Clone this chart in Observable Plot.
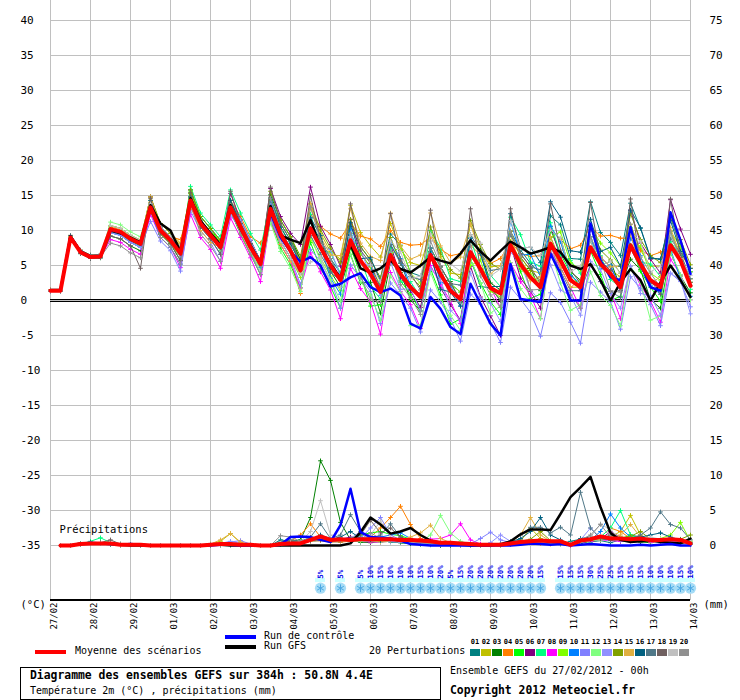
<!DOCTYPE html>
<html><head><meta charset="utf-8">
<script src="https://cdn.jsdelivr.net/npm/d3@7"></script>
<script src="https://cdn.jsdelivr.net/npm/@observablehq/plot@0.6"></script>
<style>
body{margin:0;background:#fff;}
#wrap{position:relative;width:740px;height:700px;font-family:"DejaVu Sans Mono",monospace;color:#000;overflow:hidden;background:#fff}
.abs{position:absolute;white-space:nowrap;line-height:1}
</style></head><body><div id="wrap"></div>
<script>
// ---------- DATA (6-hourly steps from 27/02/2012 00h, step 0..64) ----------
const dateLabels = ["27/02","28/02","29/02","01/03","02/03","03/03","04/03","05/03","06/03","07/03","08/03","09/03","10/03","11/03","12/03","13/03","14/03"];
const tempTicks = [-35,-30,-25,-20,-15,-10,-5,0,5,10,15,20,25,30,35,40];
const pertLabels = ["01","02","03","04","05","06","07","08","09","10","11","12","13","14","15","16","17","18","19","20"];
const pertColors = ["#008080","#c0c000","#008000","#ff8000","#00ff00","#800080","#00ff80","#ff00ff","#80ff00","#0080ff","#8080ff","#80ff80","#9090ff","#80a000","#e0b040","#006080","#507888","#706060","#c0c0c0","#909090"];

// Temperature 2m (°C), steps 0..64
const meanT = [1.4,1.4, 9.0,6.9,6.2,6.3, 10.2,9.8,8.8,8.1, 13.3,10.0,8.6,6.7, 14.3,11.0,9.3,7.6, 13.3,10.5,7.6,5.2, 13.1,9.5,7.1,4.3, 10.3,7.6,5.0,2.9, 8.6,5.7,3.8,1.2, 6.5,3.8,1.9,0.5, 6.5,3.8,1.4,0.2, 6.9,4.5,1.8,1.0, 7.9,5.2,3.3,1.9, 8.1,5.7,2.9,1.9, 7.6,5.2,3.8,1.9, 7.9,5.2,2.9,1.9, 7.9,5.7,2.1];
const gfsT = [1.5,1.5, 9.2,7.0,6.3,6.2, 10.0,9.6,9.0,8.3, 13.6,11.0,10.0,7.0, 14.6,11.4,9.6,8.0, 13.6,10.2,7.8,5.3, 13.5,9.3,8.7,8.2, 11.5,7.5,5.2,3.2, 8.0,4.6,4.0,4.6, 5.7,4.5,4.0,5.0, 6.2,5.7,5.3,6.7, 8.6,7.0,5.7,7.1, 8.4,7.6,6.7,7.1, 7.6,6.9,5.0,4.5, 5.2,2.9,0.0,2.6, 4.5,2.9,0.0,2.6, 5.0,2.9,0.5];
const ctrlT = [1.4,1.4, 9.1,7.0,6.2,6.3, 10.1,9.7,8.7,8.0, 13.2,10.1,8.7,6.6, 14.2,11.1,9.4,7.5, 13.2,10.4,7.7,5.1, 12.5,9.0,7.0,5.5, 6.2,5.0,2.0,2.4, 3.3,3.9,1.9,1.2, 1.7,0.7,-3.3,-4.0, 0.5,-1.2,-3.8,-4.8, 2.4,-0.5,-3.3,-5.0, 5.2,0.2,0.0,-0.2, 6.7,3.8,0.0,0.0, 11.0,5.7,3.3,2.9, 10.5,5.2,1.9,1.4, 12.6,8.6,3.8];
const p01t = [1.4,1.4, 9.2,7.1,6.4,6.5, 9.7,9.3,8.3,7.6, 13.8,10.5,9.1,7.2, 15.3,12.0,10.3,8.6, 13.8,11.0,8.1,5.7, 14.6,11.0,8.6,5.8, 11.3,8.6,6.0,3.9, 10.6,7.7,5.8,3.2, 9.5,7.9,4.0,3.5, 7.5,4.8,2.4,1.2, 5.9,2.0,1.8,0.0, 9.9,7.2,5.3,3.9, 12.1,10.8,6.0,5.9, 14.1,9.7,8.3,6.4, 13.9,10.3,6.0,5.9, 11.9,7.7,4.1];
const p02t = [1.5,1.4, 9.3,7.2,6.5,6.6, 10.7,10.3,9.3,8.6, 14.8,11.0,9.6,8.2, 15.3,11.5,9.8,8.6, 12.8,9.5,6.6,4.7, 14.6,10.5,8.1,5.8, 13.3,9.6,7.0,5.9, 13.6,9.7,7.8,6.2, 11.0,7.3,5.4,5.0, 10.0,6.3,3.9,3.7, 10.9,7.5,4.8,5.0, 9.9,6.2,4.3,3.9, 8.1,4.7,1.9,1.9, 9.1,5.7,4.3,3.4, 10.9,7.2,4.9,4.9, 9.9,6.7,3.1];
const p03t = [1.3,1.4, 9.0,6.9,6.2,6.3, 9.2,8.8,7.8,7.1, 12.8,9.5,8.1,5.7, 14.3,11.0,9.3,7.1, 14.3,11.5,8.6,5.7, 15.1,11.5,9.1,5.8, 10.3,8.8,4.2,1.9, 6.6,2.5,2.6,-1.8, 5.5,4.0,0.1,-1.5, 7.0,3.1,2.7,-0.3, 8.4,7.2,2.5,1.5, 8.4,4.5,4.6,1.4, 10.1,8.9,4.1,2.9, 8.6,5.0,5.6,1.9, 5.9,4.4,0.1,-1.1, 6.9,3.5,1.1];
const p04t = [1.4,1.4, 9.0,6.9,6.2,6.3, 10.5,10.1,9.1,8.4, 13.3,10.5,9.1,8.7, 13.3,10.5,8.8,8.6, 14.3,12.0,9.1,8.2, 11.1,8.0,5.6,1.0, 12.3,10.6,9.5,8.9, 11.1,9.2,8.8,7.7, 10.0,8.3,7.9,8.0, 9.0,7.3,6.4,6.7, 7.9,6.5,5.3,6.0, 8.4,6.7,6.3,6.4, 10.1,8.7,7.4,7.9, 10.6,9.2,9.3,8.9, 8.9,7.2,6.4,6.9, 7.9,6.7,4.6];
const p05t = [1.3,1.4, 8.8,6.7,6.0,6.1, 9.9,9.5,8.5,7.8, 13.8,10.0,8.6,6.2, 15.8,12.0,10.3,8.1, 12.8,9.5,6.6,3.7, 11.6,7.5,5.1,1.8, 8.3,4.6,2.0,-1.1, 7.6,3.7,-0.8,-0.6, 6.5,2.8,0.9,-1.5, 4.5,0.8,-3.4,-2.6, 5.9,2.5,-0.2,-2.0, 7.9,4.2,0.3,0.9, 10.1,6.7,3.9,1.9, 7.1,3.7,0.0,0.6, 7.9,4.2,1.9,-0.1, 9.4,6.2,2.6];
const p06t = [1.5,1.4, 9.2,7.1,6.4,6.5, 10.2,9.8,8.8,8.1, 14.8,10.5,9.1,6.7, 15.8,11.5,9.8,7.6, 15.3,11.5,8.6,5.7, 16.0,12.0,9.6,8.0, 16.2,10.6,8.0,4.9, 11.6,6.7,4.8,1.2, 8.0,3.3,1.4,-1.0, 6.5,1.8,-0.6,-2.8, 4.9,0.5,-2.2,-5.0, 7.9,3.2,1.3,-1.1, 10.6,6.2,3.4,1.4, 10.6,6.2,4.8,1.9, 12.9,8.2,5.9,3.9, 14.4,10.2,6.6];
const p07t = [1.4,1.5, 9.0,6.9,6.2,6.3, 10.7,10.3,9.3,8.6, 13.8,10.0,8.6,6.7, 16.3,12.5,10.8,9.1, 15.8,12.5,9.6,7.2, 14.6,10.5,8.1,5.3, 12.3,7.4,6.8,3.9, 8.6,5.9,2.0,0.2, 7.5,2.6,2.7,0.5, 10.0,7.5,3.1,2.7, 8.9,4.3,3.6,2.0, 11.9,9.4,5.5,4.9, 11.1,6.5,5.7,3.9, 8.6,6.4,3.0,1.9, 10.4,5.5,5.2,3.4, 8.4,6.4,1.6];
const p08t = [1.3,1.3, 8.9,6.8,6.1,6.2, 8.7,8.3,7.3,6.6, 12.3,9.0,7.6,4.7, 12.3,9.0,7.3,4.6, 11.8,9.0,6.1,2.7, 11.6,8.0,5.6,1.8, 6.8,4.1,1.5,-2.6, 4.6,1.7,-0.2,-4.8, 4.0,1.3,-0.6,-4.0, 5.0,2.3,-0.1,-3.3, 6.9,4.5,1.8,-1.0, 5.4,2.7,0.8,-2.6, 7.1,4.7,1.9,-1.1, 5.1,2.7,1.3,-2.6, 4.9,2.2,-0.1,-3.1, 5.9,3.7,0.1];
const p09t = [1.4,1.4, 9.1,7.0,6.3,6.4, 10.2,9.8,8.8,8.1, 12.8,9.5,8.1,6.2, 15.5,11.5,9.8,8.1, 13.8,11.0,8.1,5.7, 12.1,8.5,6.1,3.3, 8.8,6.1,3.5,1.4, 9.6,6.7,4.8,2.2, 6.5,7.8,3.9,2.5, 7.5,4.8,2.4,1.2, 5.0,5.8,1.3,0.5, 8.4,5.7,3.8,2.4, 9.0,9.8,5.4,4.4, 10.6,8.2,6.8,4.9, 7.5,7.8,3.9,2.9, 9.9,7.7,4.1];
const p10t = [1.4,1.3, 8.9,6.8,6.1,6.2, 9.7,9.3,8.3,7.6, 12.8,9.0,7.6,5.2, 14.3,10.5,8.8,6.6, 13.8,10.5,7.6,4.7, 14.1,10.0,7.6,4.3, 10.3,7.8,3.2,0.9, 10.1,5.0,5.1,0.7, 8.5,6.0,2.1,0.5, 7.5,2.6,2.2,-0.8, 8.9,6.7,2.0,1.0, 11.4,6.5,6.6,3.4, 10.6,8.4,3.6,2.4, 9.1,4.5,5.1,1.4, 8.9,6.4,2.1,0.9, 7.4,3.0,0.6];
const p11t = [1.4,1.4, 9.0,6.9,6.2,6.3, 9.7,9.3,8.3,7.6, 11.3,8.5,7.1,4.2, 12.8,10.0,8.3,5.6, 12.3,10.0,7.1,3.7, 11.6,8.5,6.1,2.3, 7.3,5.6,3.0,-1.1, 5.1,3.2,1.3,-3.3, 2.5,0.8,-1.1,-4.5, 1.5,-0.2,-2.6,-5.8, 0.9,-0.5,-3.2,-6.0, 1.9,0.2,-1.7,-5.1, 1.1,-0.3,-3.1,-6.1, 2.6,1.2,-0.2,-4.1, 3.4,1.7,-0.6,-3.6, 3.9,2.7,-0.9];
const p12t = [1.4,1.4, 9.1,7.0,6.3,6.4, 11.2,10.8,9.8,9.1, 14.3,10.5,9.1,6.7, 14.8,11.0,9.3,7.1, 13.3,10.0,7.1,4.2, 11.1,7.0,4.6,1.3, 9.3,5.6,3.0,-0.1, 6.6,2.7,0.8,-2.8, 3.5,1.2,-3.6,-3.5, 4.0,0.3,-2.1,-4.3, 5.9,2.5,-1.8,-0.8, 5.4,1.7,-0.2,-2.6, 7.1,2.5,-1.4,-0.6, 4.1,0.7,-0.7,-3.6, 4.9,2.6,-2.8,-2.2, 6.9,3.7,0.1];
const p13t = [1.4,1.3, 8.9,6.8,6.1,6.2, 9.7,9.3,8.3,7.6, 13.3,10.0,8.6,6.2, 14.8,11.5,9.8,7.6, 14.3,11.5,8.6,5.7, 13.6,10.0,7.6,4.3, 11.8,7.9,7.3,3.4, 9.1,7.4,3.5,0.7, 5.5,1.6,1.7,-1.5, 4.5,3.0,-1.4,-2.8, 3.9,0.3,-0.4,-3.0, 6.9,5.4,1.5,-0.1, 5.1,1.5,0.7,-2.1, 5.6,4.4,1.0,-1.1, 4.9,1.0,0.7,-2.1, 3.9,2.9,-1.9];
const p14t = [1.4,1.4, 9.0,6.9,6.2,6.3, 10.7,10.3,9.3,8.6, 14.8,11.0,9.6,7.7, 15.8,12.0,10.3,8.6, 14.3,11.0,8.1,5.7, 15.6,11.5,9.1,6.3, 13.8,10.1,7.5,5.4, 11.6,7.7,5.8,3.2, 9.0,5.3,3.4,2.0, 10.5,6.8,4.4,3.2, 11.4,8.0,5.3,4.5, 9.9,6.2,4.3,2.9, 9.1,5.7,2.9,1.9, 10.6,7.2,5.8,3.9, 12.4,8.7,6.4,5.4, 11.9,8.7,5.1];
const p15t = [1.5,1.5, 9.2,7.1,6.4,6.5, 10.7,10.3,9.3,8.6, 14.8,10.5,9.1,8.2, 14.3,10.0,8.3,7.6, 13.8,10.0,7.1,5.7, 12.6,8.0,5.6,3.8, 13.8,9.1,6.5,6.4, 13.1,8.2,6.3,5.7, 12.5,7.8,5.9,6.5, 12.5,7.8,5.4,6.2, 10.9,6.5,3.8,5.0, 9.4,4.7,2.8,3.4, 9.1,4.7,1.9,2.9, 10.6,6.2,4.8,4.9, 9.4,4.7,2.4,3.4, 10.4,6.2,2.6];
const p16t = [1.4,1.4, 8.8,6.7,6.0,6.1, 10.2,9.8,8.8,8.1, 14.3,10.5,9.1,7.2, 14.8,11.0,9.3,7.6, 14.3,11.0,8.1,5.7, 14.6,10.5,8.1,5.3, 11.8,9.3,4.7,3.4, 11.1,6.0,6.1,2.7, 8.0,5.5,1.6,1.0, 6.5,1.6,1.2,-0.8, 8.9,6.7,2.0,2.0, 12.4,7.5,7.6,5.4, 14.1,11.9,7.1,6.9, 11.6,7.0,7.6,4.9, 12.9,10.4,6.1,5.9, 11.4,7.0,4.6];
const p17t = [1.4,1.4, 9.3,7.2,6.5,6.6, 10.2,9.8,8.8,8.1, 13.8,10.5,9.1,7.7, 14.3,11.0,9.3,8.1, 12.8,10.0,7.1,5.2, 12.1,8.5,6.1,3.8, 9.3,6.6,4.0,2.9, 8.6,5.7,3.8,2.2, 8.0,5.3,3.4,3.0, 7.5,4.8,2.4,2.2, 9.4,7.0,4.3,4.5, 9.4,6.7,4.8,4.4, 6.6,4.2,1.4,1.4, 5.1,2.7,1.3,0.4, 7.4,4.7,2.4,2.4, 8.9,6.7,3.1];
const p18t = [1.4,1.3, 8.8,6.7,6.0,6.1, 9.2,8.8,7.8,4.6, 14.6,9.5,8.1,5.7, 15.4,10.5,8.8,6.6, 15.6,11.0,8.1,5.2, 16.2,11.0,8.6,5.3, 15.0,8.6,6.0,2.9, 13.8,7.2,5.3,1.7, 12.4,5.8,3.9,1.5, 12.9,4.8,2.4,0.2, 13.1,4.5,1.8,0.0, 13.1,6.7,4.8,2.4, 13.8,7.2,4.4,2.4, 14.0,5.7,4.3,1.4, 14.5,5.2,2.9,0.9, 14.5,6.2,2.6];
const p19t = [1.4,1.4, 9.0,6.9,6.2,6.3, 10.7,10.3,9.3,8.6, 13.8,10.5,9.1,7.7, 14.3,11.0,9.3,8.1, 12.8,10.0,7.1,5.2, 12.1,8.5,6.1,3.8, 5.5,6.2,2.4,1.9, 9.1,5.0,5.1,2.7, 8.5,7.0,3.1,3.5, 9.5,5.6,5.2,4.2, 9.4,8.2,3.5,4.5, 11.4,7.5,7.6,6.4, 10.1,8.9,4.1,4.9, 8.6,5.0,5.6,3.9, 9.9,8.4,4.1,4.9, 9.4,6.0,3.6];
const p20t = [1.3,1.3, 8.9,6.8,6.1,6.2, 8.2,7.8,6.8,6.1, 13.3,9.0,7.6,5.2, 13.8,9.5,7.8,5.6, 13.3,9.5,6.6,3.7, 14.6,10.0,7.6,4.3, 13.3,8.6,6.0,2.9, 9.6,3.5,0.2,-0.3, 7.0,2.3,0.4,-2.0, 8.5,5.0,0.0,-0.2, 7.9,3.5,0.8,-1.0, 9.9,6.4,1.5,1.6, 8.1,3.7,0.9,-1.1, 9.1,5.9,1.4,1.2, 10.9,6.2,3.9,1.9, 9.9,5.7,2.1];

// Precipitation (mm per 6h), steps 1..64
const meanP = [0,0,0.2,0.3,0.3,0.3,0.1,0.1,0.1,0, 0,0,0,0,0,0.1,0.2,0.2,0.1,0.1, 0,0,0.2,0.3,0.3,0.8,1.3,0.8,0.9,0.8, 0.9,0.9,0.9,0.9,0.8,0.8,0.7,0.6,0.4,0.4, 0.3,0.2,0.1,0.1,0.1,0.3,0.5,0.6,0.7,0.6, 0.6,0.1,0.7,0.9,1.3,1.0,1.0,0.9,1.0,0.8, 0.8,0.9,0.8,0.3];
const gfsP = [0,0,0.3,0.3,0.3,0.2,0.1,0,0,0, 0,0,0,0,0,0.1,0.1,0,0,0, 0,0,0,0,0,0,0,0,0,0.3, 1.9,4.0,3.0,1.7,2.0,2.5,1.5,0.7,0.4,0.3, 0.1,0,0,0,0.2,0.6,1.6,2.3,2.3,2.2, 4.5,6.9,8.3,9.8,5.5,1.8,0.8,0.5,0.6,0.8, 0.5,0.4,0.3,1.0];
const ctrlP = [0,0,0.2,0.4,0.3,0.2,0.1,0.2,0.1,0, 0,0,0,0,0,0,0.1,0.1,0,0, 0,0,0.1,1.2,1.3,1.2,0.8,0.5,2.9,8.1, 1.9,1.2,1.1,1.0,0.7,0.2,0.1,0,0,0, 0,0,0,0,0,0,0.1,0.3,0.2,0.1, 0.2,0,0.1,0.2,0.1,0,0,0,0.1,0, 0.1,0.2,0,0];
const p01p = [0,0,0.3,0.4,0.3,0.2,0.1,0.1,0,0, 0,0,0,0,0,0.1,0.2,0.1,0,0, 0,0,0.8,0.6,0.4,1.0,0.8,0.6,0.5,0.7, 0.5,0.6,0.8,0.5,0.4,0.3,0.2,0.1,0,0, 0,0,0,0,0.2,0.4,0.8,0.5,0.4,0.3, 0.2,0.6,0.9,0.5,0.7,0.4,0.8,1.5,1.2,0.8, 0.6,0.9,0.5,0.3];
const p02p = [0,0,0.2,0.3,0.4,0.3,0.1,0,0,0, 0,0,0,0,0,0.2,0.6,1.7,0.4,0.1, 0,0,0.2,0.3,0.5,0.6,0.9,0.5,0.6,0.8, 1.2,0.8,0.5,0.6,0.9,0.5,0.3,0.2,0.1,0.2, 0.1,0,0,0.1,0.2,0.3,0.6,2.5,1.0,0.4, 0.3,0,0.5,0.6,0.8,1.2,2.0,4.3,1.5,0.6, 0.5,0.7,0.4,0.2];
const p03p = [0,0,0.2,0.3,0.3,0.3,0.2,0.1,0,0, 0,0,0,0,0,0,0.1,0.1,0,0, 0,0,0.4,0.6,0.8,4.0,12.1,9.3,3.3,0.8, 0.5,0.4,0.6,0.8,0.4,0.3,0.2,0.1,0,0, 0,0,0,0,0,0.2,0.3,0.4,0.8,0.5, 0.4,0,0.3,0.6,0.9,1.0,0.6,0.7,0.5,0.4, 0.6,0.5,0.4,0.2];
const p04p = [0,0,0.2,0.4,0.3,0.2,0.1,0,0,0, 0,0,0,0,0,0,0.1,0.2,0,0, 0,0,0.3,0.6,1.5,3.1,1.2,0.6,0.5,0.6, 0.8,1.2,2.5,4.0,5.6,3.0,1.0,0.5,0.3,0.2, 0.1,0,0,0,0.1,0.2,0.4,0.5,0.3,0.2, 0.4,0.1,0.5,0.6,1.2,2.5,2.0,1.0,0.8,0.5, 0.4,0.6,0.4,0.2];
const p05p = [0,0,0.3,0.4,0.4,0.3,0.1,0.1,0,0, 0,0,0,0,0,0.1,0.1,0.1,0,0, 0,0,0.2,0.4,0.5,0.9,0.8,0.6,0.7,1.0, 1.5,1.8,2.0,1.6,1.4,0.9,0.5,0.3,0.2,0.1, 0,0,0,0,0,0.2,0.5,0.6,0.7,0.5, 0.6,0.1,0.8,0.9,1.1,0.7,0.9,1.5,1.0,0.6, 0.8,0.9,0.5,0.2];
const p06p = [0,0,0.2,0.3,0.3,0.2,0.1,0,0,0, 0,0,0,0,0,0,0.1,0.1,0.1,0, 0,0,0.2,0.3,0.3,0.6,0.8,0.6,0.9,1.2, 0.8,0.6,0.5,0.7,0.6,0.8,0.5,0.4,0.3,0.2, 0.2,0.1,0,0,0.1,0.4,0.6,0.5,0.6,0.5, 0.5,0,0.4,0.7,0.9,2.0,1.2,0.8,0.9,0.6, 0.7,1.0,0.6,0.3];
const p07p = [0,0,0.2,0.6,1.1,0.4,0.1,0.1,0,0, 0,0,0,0,0,0.1,0.2,0.2,0.1,0, 0,0,0.3,0.4,0.4,0.7,0.9,0.6,0.7,0.8, 0.6,0.7,0.6,0.8,0.5,0.4,0.3,0.2,0.2,0.1, 0,0,0,0,0,0.2,0.4,0.5,0.6,0.4, 0.4,0.2,0.6,0.9,1.2,2.5,5.0,1.5,0.8,0.6, 0.5,0.8,0.6,0.3];
const p08p = [0,0,0.2,0.3,0.3,0.3,0.1,0.1,0,0, 0,0,0,0,0,0,0.1,0.1,0,0, 0,0,0.2,0.4,0.4,0.6,0.7,0.5,0.6,0.7, 0.6,0.5,0.5,0.6,0.5,0.6,0.7,0.9,1.0,1.5, 3.1,0.8,0.2,0,0,0.2,0.4,0.5,0.5,0.4, 0.5,0,0.5,0.6,0.8,0.7,0.6,0.9,0.8,0.5, 0.6,0.7,0.5,0.2];
const p09p = [0,0,0.3,0.3,0.4,0.2,0.1,0,0,0, 0,0,0,0,0,0.1,0.1,0.2,0.1,0, 0,0,0.3,0.5,0.5,0.8,1.0,0.8,0.8,0.6, 0.7,0.8,1.0,0.9,0.8,0.7,0.6,0.4,0.3,0.2, 0.2,0.1,0,0,0.1,0.3,0.5,0.7,0.8,0.6, 0.5,0.2,0.7,0.8,1.0,0.8,1.2,1.0,0.9,0.8, 1.0,1.5,3.3,0.6];
const p10p = [0,0,0.2,0.4,0.3,0.3,0.1,0.1,0,0, 0,0,0,0,0,0.1,0.1,0.1,0,0, 0,0,0.3,0.4,0.3,0.6,0.8,0.7,0.8,0.9, 1.2,1.0,1.2,1.5,1.8,1.0,0.6,0.4,0.3,0.2, 0.1,0,0,0,0.1,0.2,0.5,0.6,0.5,0.5, 0.6,0.2,0.6,0.8,2.0,4.5,2.5,1.2,1.0,0.9, 0.8,0.7,0.6,0.2];
const p11p = [0,0,0.2,0.3,0.3,0.2,0.1,0,0,0, 0,0,0,0,0,0.1,0.3,0.5,0.7,0.2, 0,0,0.3,0.4,0.5,0.7,0.9,0.6,0.7,0.8, 1.0,2.5,4.0,1.5,0.8,0.5,0.3,0.2,0.1,0.2, 0.1,0.2,1.0,1.9,0.8,0.4,0.5,0.6,0.5,0.4, 0.5,0.1,0.4,0.7,0.9,0.8,0.7,0.6,0.8,0.6, 0.5,0.7,0.6,0.3];
const p12p = [0,0,0.2,0.3,0.3,0.2,0.1,0.1,0,0, 0,0,0,0,0,0,0.1,0.2,0.1,0, 0,0,0.2,0.3,0.4,0.6,0.7,0.5,0.6,0.7, 0.6,0.7,0.5,0.6,0.5,0.4,0.5,1.5,4.3,1.8, 0.6,0.2,0,0,0,0.2,0.4,0.5,0.6,0.5, 0.4,0.1,0.5,0.7,0.8,0.9,1.2,0.9,0.8,0.7, 0.6,0.8,0.7,0.3];
const p13p = [0,0,0.2,0.3,0.3,0.3,0.1,0,0,0, 0,0,0,0,0,0.1,0.3,0.6,0.3,0.1, 0,0,0.2,0.3,0.4,0.6,0.8,0.6,0.8,1.0, 2.0,1.2,0.8,0.6,0.5,0.4,0.3,0.2,0.1,0.1, 0.1,0,0,0.4,1.5,0.6,0.4,0.5,0.6,0.5, 0.5,0.1,0.8,2.5,1.0,0.7,0.8,0.9,0.7,0.6, 0.5,0.6,0.5,0.2];
const p14p = [0,0,0.2,0.4,0.4,0.3,0.1,0.1,0,0, 0,0,0,0,0,0.1,0.2,0.1,0,0, 0,0,0.3,0.3,0.4,0.7,0.9,0.7,0.8,0.7, 0.8,0.7,0.7,0.8,0.6,0.5,0.4,0.3,0.2,0.2, 0.1,0,0,0,0.1,0.3,0.6,0.9,2.0,0.7, 0.6,0.1,0.7,0.9,1.0,0.8,1.1,1.3,2.0,0.9, 0.8,1.0,0.9,1.5];
const p15p = [0,0,0.2,0.3,0.3,0.3,0.1,0.1,0,0, 0,0,0,0,0,0.2,0.8,1.7,0.5,0.1, 0,0,0.2,0.4,0.5,0.6,0.7,0.5,0.6,0.7, 0.8,0.7,0.6,0.7,0.8,1.2,1.8,2.9,1.0,0.4, 0.2,0.1,0,0,0.1,0.4,1.5,4.0,1.5,0.6, 0.4,0.1,0.6,0.8,0.9,1.0,1.5,3.0,1.2,0.6, 0.5,0.8,0.6,0.2];
const p16p = [0,0,0.2,0.4,0.3,0.2,0.1,0.1,0,0, 0,0,0,0,0,0.1,0.1,0.1,0,0, 0,0,0.3,0.5,0.5,0.8,1.5,1.0,1.2,2.0, 1.0,0.8,0.7,0.8,0.6,0.5,0.4,0.3,0.2,0.2, 0.1,0,0,0,0.2,0.5,1.0,2.0,4.0,1.5, 0.8,0.2,1.0,1.2,1.0,0.8,0.9,1.0,1.2,1.5, 1.8,1.2,0.8,0.4];
const p17p = [0,0,0.2,0.3,0.3,0.3,0.1,0,0,0, 0,0,0,0,0,0,0.1,0.1,0,0, 0,0,0.5,0.8,0.6,1.2,3.1,1.0,1.5,4.4, 2.0,1.0,1.5,3.1,1.2,0.6,0.4,0.3,0.2,0.1, 0,0,0,0,0.2,0.6,1.5,2.6,2.6,1.8, 2.6,1.5,7.6,2.5,1.0,0.8,0.9,1.0,1.5,2.5, 4.8,3.0,2.5,0.8];
const p18p = [0,0,0.2,0.3,0.4,0.8,0.2,0.1,0,0, 0,0,0,0,0,0.1,0.1,0.1,0,0, 0,0,0.4,0.6,0.5,0.7,0.8,0.6,0.7,1.0, 1.5,3.6,1.8,2.5,1.2,0.8,0.5,0.3,0.2,0.1, 0.1,0,0,0,0.1,0.3,0.5,0.6,0.5,0.4, 0.5,0.1,0.6,0.8,1.0,1.5,0.9,0.8,0.7,0.6, 0.7,0.9,0.6,0.2];
const p19p = [0,0,0.2,0.3,0.3,0.3,0.1,0,0,0, 0,0,0,0,0,0.1,0.1,0.1,0,0, 0,0,0.3,0.4,0.5,2.0,6.4,1.5,0.8,0.7, 0.9,1.5,3.5,1.2,0.7,0.5,0.3,0.2,0.1,0.1, 0,0,0,0,0.1,0.2,0.4,0.5,0.5,0.4, 0.5,0.1,0.6,1.2,3.1,2.2,1.0,0.8,0.9,1.2, 0.9,0.8,0.7,0.5];
const p20p = [0,0,0.2,0.3,0.4,0.3,0.1,0.1,0,0, 0,0,0,0,0,0.1,0.1,0.1,0,0, 0,0,1.4,1.2,0.6,0.8,1.0,0.7,0.8,0.7, 0.9,1.8,1.0,0.8,0.7,0.6,0.4,0.3,0.2,0.1, 0,0,0,0,0.1,0.2,0.5,0.7,0.6,0.5, 0.6,0.2,0.8,1.5,3.0,1.2,0.8,0.9,0.8,0.7, 0.6,0.8,0.6,0.3];

// Snow probability (%) at 6-hourly steps
const snowSteps = [27,29,31,32,33,34,35,36,37,38,39,40,41,42,43,44,45,46,47,48,49,51,52,53,54,55,56,57,58,59,60,61,62,63,64];
const snowPct   = [5,5,5,10,15,10,10,10,15,10,20,5,15,20,20,20,20,20,20,20,15,15,15,15,30,25,25,15,15,15,10,10,10,15,10];

// ---------- layout constants ----------
const lastStep = 64;
const yLow = -300/7, yHigh = 300/7;      // frame of the shared axis
const precipZero = -35;                  // 0 mm sits at -35 on the shared axis
const rightOffset = 35;                  // right-hand labels = left value + 35
const snowLabelLevel = -39.75, snowBandTop = -39.7, snowBandBottom = -40.3, snowIconLevel = -41.1;
const precipTitleLevel = -32.7;
const FONT = "DejaVu Sans Mono";

const pertT = [p01t,p02t,p03t,p04t,p05t,p06t,p07t,p08t,p09t,p10t,p11t,p12t,p13t,p14t,p15t,p16t,p17t,p18t,p19t,p20t];
const pertP = [p01p,p02p,p03p,p04p,p05p,p06p,p07p,p08p,p09p,p10p,p11p,p12p,p13p,p14p,p15p,p16p,p17p,p18p,p19p,p20p];
const tRows = arr => arr.map((v,k)=>({i:k, v}));
const pRows = arr => arr.map((v,k)=>({i:k+1, v:v+precipZero}));
const dateSteps = dateLabels.map((d,k)=>4*k);
const snow = snowSteps.map((s,k)=>({i:s, p:snowPct[k]}));

const marks = [
  Plot.ruleY(tempTicks, {stroke:"#c0c0c0", strokeWidth:1}),
  Plot.ruleX(dateSteps, {stroke:"#c0c0c0", strokeWidth:1}),
  Plot.ruleY([0], {stroke:"#000", strokeWidth:1, dy:-1}),
  Plot.ruleY([0], {stroke:"#000", strokeWidth:1, dy:1}),
  Plot.ruleY([yLow], {stroke:"#000", strokeWidth:2, dy:-0.5}),
  Plot.rect(snow, {x1:d=>d.i-0.5, x2:d=>d.i+0.5, y1:snowBandTop, y2:snowBandBottom, fill:"#ccffff"}),
  Plot.dot(snow, {x:"i", y:snowIconLevel, r:5.6, fill:"#a6dcf6"}),
  Plot.dot(snow, {x:"i", y:snowIconLevel, r:3.6, symbol:"asterisk", stroke:"#4aa8e4", strokeWidth:1}),
  Plot.text(snow, {x:"i", y:snowLabelLevel, text:d=>d.p+"%", rotate:-90, textAnchor:"start", fill:"#0000ee", fontSize:7.5, fontWeight:"bold"})
];
pertT.forEach((arr,k)=>{
  const rows = tRows(arr), c = pertColors[k];
  marks.push(Plot.line(rows, {x:"i", y:"v", stroke:c, strokeWidth:1}));
  marks.push(Plot.dot(rows, {x:"i", y:"v", symbol:"plus", r:1.6, stroke:c, strokeWidth:1}));
});
pertP.forEach((arr,k)=>{
  const rows = pRows(arr), c = pertColors[k];
  marks.push(Plot.line(rows, {x:"i", y:"v", stroke:c, strokeWidth:1}));
  marks.push(Plot.dot(rows, {x:"i", y:"v", symbol:"plus", r:1.6, stroke:c, strokeWidth:1}));
});
marks.push(
  Plot.line(tRows(gfsT), {x:"i", y:"v", stroke:"#000", strokeWidth:2.5}),
  Plot.line(pRows(gfsP), {x:"i", y:"v", stroke:"#000", strokeWidth:2.5}),
  Plot.line(tRows(ctrlT), {x:"i", y:"v", stroke:"#0000ff", strokeWidth:2.5}),
  Plot.line(pRows(ctrlP), {x:"i", y:"v", stroke:"#0000ff", strokeWidth:2.5}),
  Plot.line(tRows(meanT), {x:"i", y:"v", stroke:"#ff0000", strokeWidth:4}),
  Plot.line(pRows(meanP), {x:"i", y:"v", stroke:"#ff0000", strokeWidth:4}),
  // axes as text
  Plot.text(tempTicks, {y:d=>d, frameAnchor:"left", dx:-30, textAnchor:"start", text:d=>String(d), fontSize:11}),
  Plot.text(tempTicks, {y:d=>d, frameAnchor:"right", dx:19, textAnchor:"start", text:d=>String(d+rightOffset), fontSize:11}),
  Plot.text(dateLabels, {x:(d,k)=>dateSteps[k], frameAnchor:"bottom", dx:6.5, dy:2, rotate:-90, textAnchor:"end", fontSize:9}),
  Plot.text(["(°C)"], {frameAnchor:"bottom-left", dx:-30, dy:7, textAnchor:"start", fontSize:10.5}),
  Plot.text(["(mm)"], {frameAnchor:"bottom-right", dx:13, dy:7, textAnchor:"start", fontSize:10.5}),
  Plot.text(["Précipitations"], {x:0, y:precipTitleLevel, dx:9, textAnchor:"start", fontSize:10.5})
);

const chart = Plot.plot({
  width:740, height:650,
  marginLeft:50, marginRight:50, marginTop:0, marginBottom:50,
  x:{domain:[0,lastStep], axis:null},
  y:{domain:[yLow,yHigh], axis:null},
  style:{fontFamily:FONT, fontSize:"11px", background:"white", color:"black", overflow:"visible"},
  marks
});
const wrap = document.getElementById("wrap");
chart.style.position = "absolute"; chart.style.left = "0px"; chart.style.top = "0px";
wrap.appendChild(chart);

// ---------- legend (HTML) ----------
function label(text, left, cy, size, bold){
  const d = document.createElement("div");
  d.className = "abs"; d.textContent = text;
  d.style.left = left+"px"; d.style.top = (cy - size*0.6)+"px";
  d.style.fontSize = size+"px"; if (bold) d.style.fontWeight = "bold";
  wrap.appendChild(d); return d;
}
function box(left, top, w, h, bg, border){
  const d = document.createElement("div");
  d.className = "abs";
  Object.assign(d.style, {left:left+"px", top:top+"px", width:w+"px", height:h+"px", background:bg||"transparent"});
  if (border) d.style.border = border;
  wrap.appendChild(d); return d;
}
box(35, 650, 31, 4, "#ff0000");
label("Moyenne des scénarios", 75, 652, 10);
box(225, 635, 31, 4, "#0000ff");
box(225, 645, 31, 4, "#000000");
label("Run de contrôle", 264, 637, 10);
label("Run GFS", 264, 647, 10);
label("20 Perturbations", 369, 652, 10);
pertColors.forEach((c,k)=>{
  box(470 + 11*k, 649, 10, 7, c);
  const t = label(pertLabels[k], 470 + 11*k - 1, 643, 7, true);
  t.style.width = "12px"; t.style.textAlign = "center";
});
box(20, 667, 419, 31, "transparent", "1px solid #000");
label("Diagramme des ensembles GEFS sur 384h : 50.8N 4.4E", 30, 677, 11.4, true);
label("Température 2m (°C) , précipitations (mm)", 30, 692, 10);
label("Ensemble GEFS du 27/02/2012 - 00h", 450, 672, 10);
label("Copyright 2012 Meteociel.fr", 450, 692, 11.4, true);
</script></body></html>
